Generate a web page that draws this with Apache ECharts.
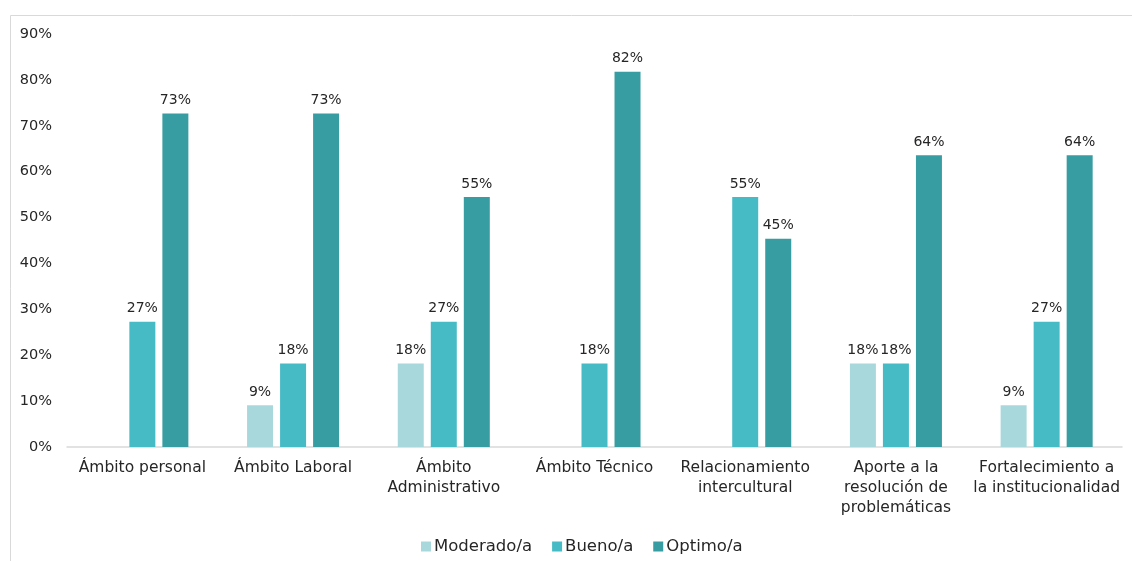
<!DOCTYPE html>
<html lang="es">
<head>
    <meta charset="utf-8"/>
    <title>Ámbitos</title>
    <script src="https://cdn.jsdelivr.net/npm/echarts@6/dist/echarts.min.js"></script>
    <style>
        html, body { margin: 0; padding: 0; background: #fff; }
        #chart { width: 1132px; height: 561px; }
    </style>
</head>
<body>
<div id="chart"></div>
<script>
    // categorias (con saltos de linea como en el original)
    var categorias = ['Ámbito personal', 'Ámbito Laboral', 'Ámbito\nAdministrativo', 'Ámbito Técnico',
        'Relacionamiento\nintercultural', 'Aporte a la\nresolución de\nproblemáticas', 'Fortalecimiento a\nla institucionalidad'];
    var series = ['Moderado/a', 'Bueno/a', 'Optimo/a'];
    var moderado = [null, 9.1, 18.2, null, null, 18.2, 9.1];
    var bueno = [27.3, 18.2, 27.3, 18.2, 54.5, 18.2, 27.3];
    var optimo = [72.7, 72.7, 54.5, 81.8, 45.4, 63.6, 63.6];
    var colores = ['#a9d8dc', '#47bbc5', '#379da2'];

    var fuente = 'DejaVu Sans';
    var texto = '#262626';

    function serie(nombre, datos, i) {
        return {
            name: nombre,
            type: 'bar',
            data: datos,
            barWidth: 26,
            barGap: '27%',
            itemStyle: { color: colores[i] },
            label: {
                show: true,
                position: 'top',
                distance: 6,
                color: texto,
                fontFamily: fuente,
                fontSize: 14,
                formatter: function (p) { return Math.round(p.value) + '%'; }
            }
        };
    }

    var myChart = echarts.init(document.getElementById('chart'));
    var options = {
        animation: false,
        textStyle: { fontFamily: fuente },
        graphic: [{
            type: 'rect',
            shape: { x: 10.5, y: 15.5, width: 1200, height: 700 },
            style: { fill: 'none', stroke: '#d9d9d9', lineWidth: 1 },
            silent: true
        }],
        grid: { left: 67, right: 10, top: 34, bottom: 114 },
        legend: {
            data: series,
            top: 533,
            left: 416,
            itemWidth: 10,
            itemHeight: 10,
            itemGap: 20,
            icon: 'rect',
            textStyle: { color: texto, fontFamily: fuente, fontSize: 16.5, padding: [0, 0, 0, -2] }
        },
        xAxis: {
            type: 'category',
            data: categorias,
            axisLine: { lineStyle: { color: '#d9d9d9', width: 1.5 } },
            axisTick: { show: false },
            axisLabel: {
                interval: 0,
                color: texto,
                fontFamily: fuente,
                fontSize: 15.5,
                lineHeight: 20,
                margin: 11
            }
        },
        yAxis: {
            type: 'value',
            min: 0,
            max: 90,
            interval: 10,
            axisLine: { show: false },
            axisTick: { show: false },
            splitLine: { show: false },
            axisLabel: {
                color: texto,
                fontFamily: fuente,
                fontSize: 14.5,
                margin: 15,
                formatter: '{value}%'
            }
        },
        series: [
            serie(series[0], moderado, 0),
            serie(series[1], bueno, 1),
            serie(series[2], optimo, 2)
        ]
    };
    myChart.setOption(options);
</script>
</body>
</html>
